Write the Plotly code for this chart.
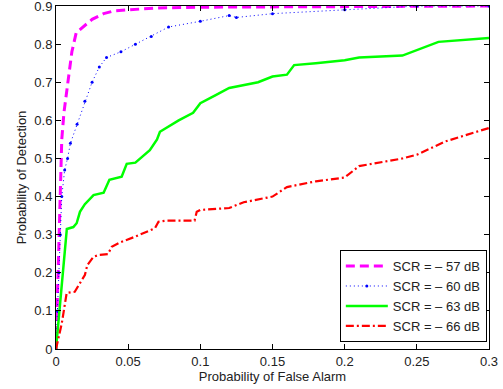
import plotly.graph_objects as go

x57 = [0, 0.001, 0.002, 0.003, 0.004, 0.0055, 0.008, 0.011, 0.014, 0.02, 0.025, 0.033, 0.04, 0.05, 0.07, 0.1, 0.15, 0.2, 0.25, 0.3]
y57 = [0, 0.15, 0.3, 0.45, 0.55, 0.62, 0.7, 0.78, 0.83, 0.85, 0.865, 0.88, 0.887, 0.89, 0.895, 0.897, 0.898, 0.899, 0.9, 0.9]

x60 = [0, 0.001, 0.002, 0.003, 0.004, 0.006, 0.008, 0.01, 0.0146, 0.02, 0.025, 0.03, 0.035, 0.045, 0.055, 0.066, 0.078, 0.1, 0.12, 0.125, 0.15, 0.2, 0.25, 0.3]
y60 = [0, 0.1, 0.2, 0.3, 0.4, 0.47, 0.5, 0.54, 0.59, 0.65, 0.7, 0.74, 0.765, 0.78, 0.8, 0.82, 0.845, 0.86, 0.875, 0.87, 0.88, 0.89, 0.9, 0.9]

x63 = [0, 0.0075, 0.012, 0.0143, 0.0166, 0.02, 0.026, 0.033, 0.037, 0.0455, 0.049, 0.055, 0.065, 0.07, 0.072, 0.085, 0.095, 0.1, 0.11, 0.12, 0.14, 0.15, 0.16, 0.165, 0.18, 0.2, 0.21, 0.24, 0.265, 0.3]
y63 = [0, 0.315, 0.32, 0.33, 0.36, 0.38, 0.404, 0.41, 0.444, 0.452, 0.486, 0.489, 0.522, 0.55, 0.57, 0.6, 0.62, 0.645, 0.665, 0.685, 0.70, 0.715, 0.72, 0.745, 0.75, 0.758, 0.765, 0.77, 0.806, 0.816]

x66 = [0, 0.004, 0.0074, 0.013, 0.0166, 0.02, 0.0217, 0.026, 0.03, 0.036, 0.0386, 0.044, 0.0536, 0.065, 0.0686, 0.071, 0.0767, 0.096, 0.0975, 0.1, 0.12, 0.13, 0.15, 0.16, 0.18, 0.2, 0.21, 0.24, 0.25, 0.27, 0.3]
y66 = [0, 0.067, 0.147, 0.15, 0.173, 0.194, 0.22, 0.242, 0.247, 0.249, 0.268, 0.279, 0.293, 0.31, 0.317, 0.334, 0.337, 0.337, 0.36, 0.365, 0.37, 0.385, 0.40, 0.425, 0.44, 0.45, 0.48, 0.50, 0.51, 0.545, 0.58]

x_ticks = [0, 0.05, 0.1, 0.15, 0.2, 0.25, 0.3]
x_labels = ["0", "0.05", "0.1", "0.15", "0.2", "0.25", "0.3"]
y_ticks = [0, 0.1, 0.2, 0.3, 0.4, 0.5, 0.6, 0.7, 0.8, 0.9]
y_labels = ["0", "0.1", "0.2", "0.3", "0.4", "0.5", "0.6", "0.7", "0.8", "0.9"]

names = ["SCR = \u2013 57 dB", "SCR = \u2013 60 dB", "SCR = \u2013 63 dB", "SCR = \u2013 66 dB"]

fig = go.Figure()
fig.add_trace(go.Scatter(x=x57, y=y57, mode="lines", name=names[0],
                         line=dict(color="#ff00ff", width=3, dash="9px,5px")))
fig.add_trace(go.Scatter(x=x60, y=y60, mode="lines+markers", name=names[1],
                         line=dict(color="#0000ff", width=1, dash="1px,3px"),
                         marker=dict(size=3, color="#0000ff")))
fig.add_trace(go.Scatter(x=x63, y=y63, mode="lines", name=names[2],
                         line=dict(color="#00ff00", width=2.5)))
fig.add_trace(go.Scatter(x=x66, y=y66, mode="lines", name=names[3],
                         line=dict(color="#ff0000", width=2.2, dash="8px,3px,2px,3px")))

axis_common = dict(showline=True, linecolor="black", linewidth=1, mirror="ticks",
                   ticks="inside", ticklen=5, tickcolor="black", showgrid=False,
                   zeroline=False, automargin=False, ticklabeloverflow="allow",
                   tickfont=dict(size=13, color="#222"))

fig.update_layout(
    width=503, height=389,
    margin=dict(l=56, r=14, t=6, b=40),
    paper_bgcolor="white", plot_bgcolor="white",
    font=dict(family="Liberation Sans, Arial", size=13, color="#222"),
    xaxis=dict(range=[0, 0.3], tickvals=x_ticks, ticktext=x_labels,
               title=dict(text="Probability of False Alarm", standoff=2, font=dict(size=13)),
               **axis_common),
    yaxis=dict(range=[0, 0.9001], tickvals=y_ticks, ticktext=y_labels,
               title=dict(text="Probability of Detection", standoff=4, font=dict(size=13)),
               **axis_common),
    legend=dict(x=0.995, y=0.02, xanchor="right", yanchor="bottom",
                bgcolor="white", bordercolor="black", borderwidth=1,
                font=dict(size=13), tracegroupgap=0, itemwidth=42),
    showlegend=True,
)

fig.write_html("out.html", config={"displayModeBar": False},
               post_script="document.body.style.margin='0';document.body.style.padding='0';")
